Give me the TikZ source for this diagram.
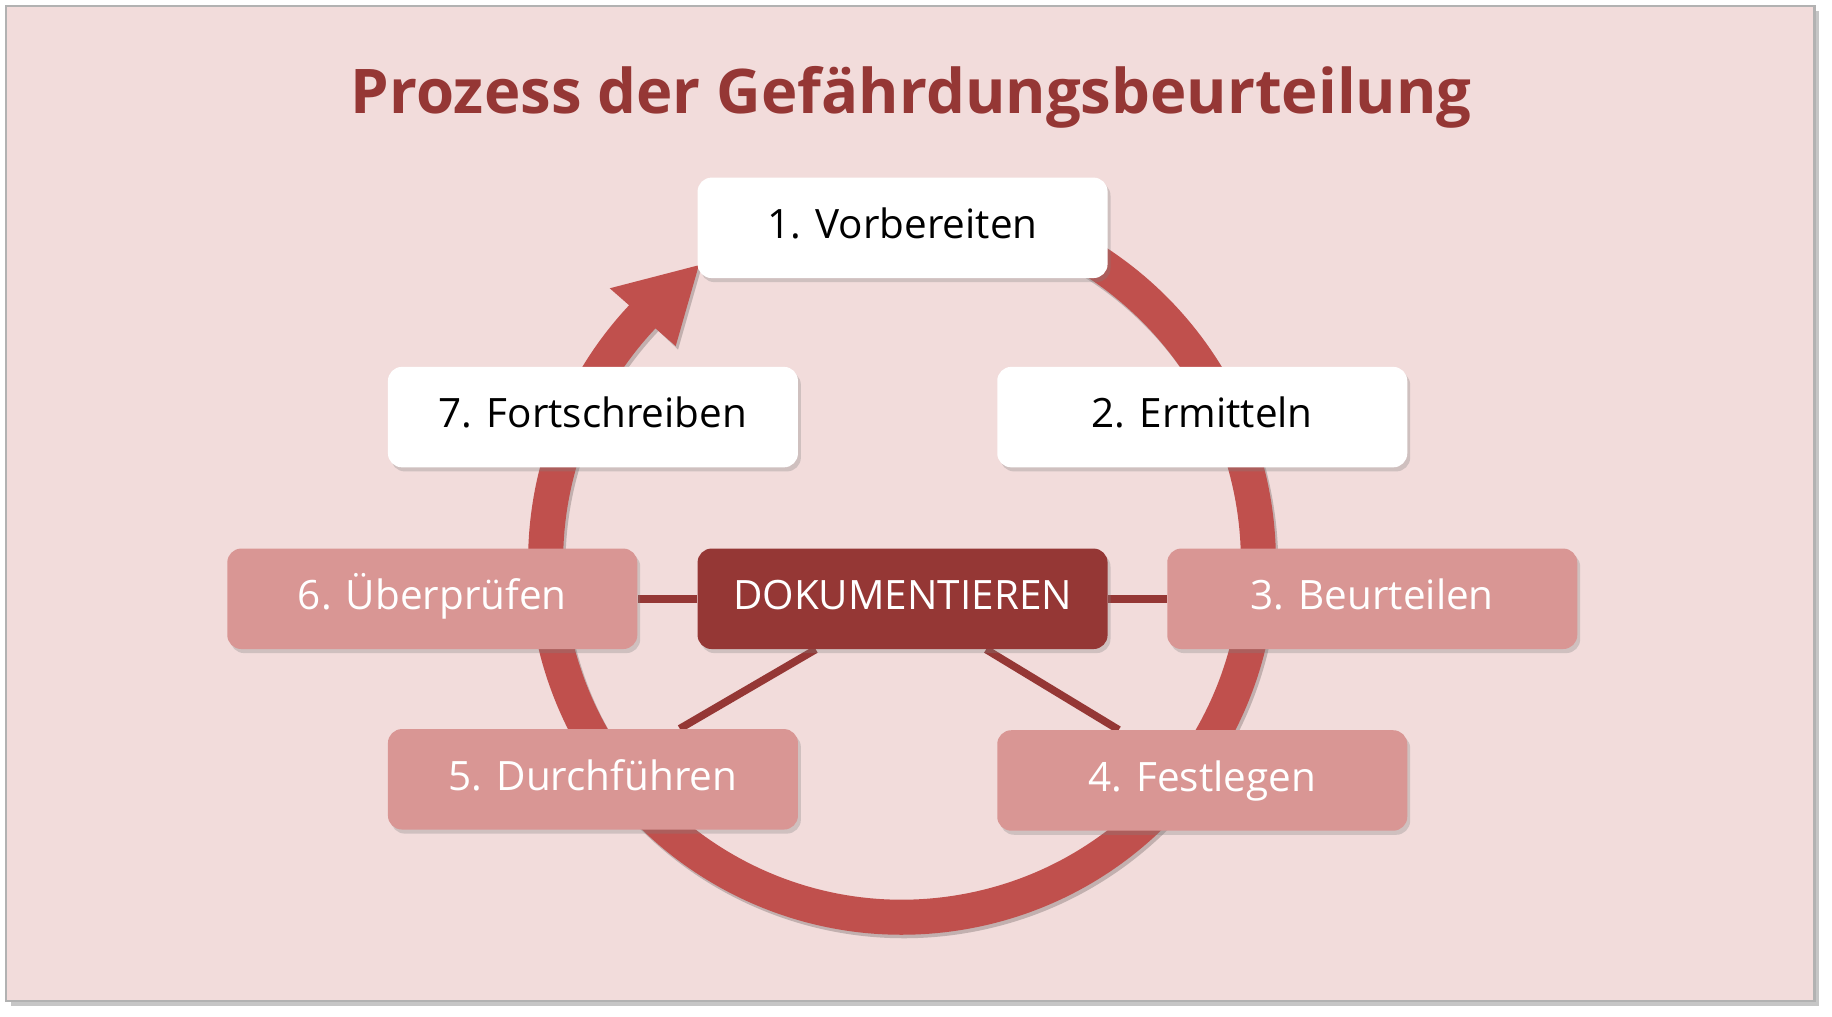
\documentclass[tikz,border=0pt]{standalone}
\usepackage{fontspec}
\setmainfont{Open Sans}
\usetikzlibrary{shadows,backgrounds,calc}
\definecolor{bgrose}{HTML}{F2DCDB}
\definecolor{ringred}{HTML}{C0504D}
\definecolor{darkred}{HTML}{953735}
\definecolor{boxrose}{HTML}{D99694}

\begin{document}
\begin{tikzpicture}[x=0.02cm,y=0.02cm,
    box/.style={rounded corners=0.24cm, minimum width=7.02cm, minimum height=1.72cm,
      inner sep=0pt, text height=1.05em, text depth=0pt, font=\fontsize{19.7}{24}\selectfont,
      drop shadow={shadow xshift=0.05cm, shadow yshift=-0.07cm, opacity=0.3}},
    whitebox/.style={box, fill=white, text=black},
    pinkbox/.style={box, fill=boxrose, text=white},
    dokbox/.style={box, fill=darkred, text=white},
    link/.style={darkred, line width=0.13cm}]
    \useasboundingbox (0,0) rectangle (1568,-870.4);
    \node [font=\fontsize{30}{36}\selectfont\bfseries, text=darkred] (title) at (780,-83) {Prozess der Gefährdungsbeurteilung};
    \node [whitebox] (vorb) at (772.5,-195) {1. Vorbereiten};
    \node [whitebox] (ermi) at (1029,-357) {2. Ermitteln};
    \node [whitebox] (fort) at (507.5,-357) {7. Fortschreiben};
    \node [pinkbox] (pruef) at (370,-512.5) {6. Überprüfen};
    \node [dokbox] (doku) at (772.5,-512.5) {DOKUMENTIEREN};
    \node [pinkbox] (beur) at (1174.5,-512.5) {3. Beurteilen};
    \node [pinkbox] (durch) at (507.5,-667) {5. Durchführen};
    \node [pinkbox] (fest) at (1029,-668) {4. Festlegen};
    \begin{pgfonlayer}{background}
      \fill [gray!45] (9,-9) rectangle (1557,-861);
      \filldraw [fill=bgrose, draw=gray!60, line width=0.04cm] (5,-5) rectangle (1553,-857);
      % ring with arrow
      \coordinate (c) at (772,-480);
      \coordinate (cs) at (774,-483);
      \draw [bgrose!80!black, line width=0.6cm] (cs) ++(100:305) arc [start angle=100, end angle=-224, radius=305];
      \fill [bgrose!80!black] ($(cs)+(136.5:343)$) -- ($(cs)+(124.5:307)$) -- ($(cs)+(136.5:267)$) -- cycle;
      \draw [ringred, line width=0.6cm] (c) ++(100:305) arc [start angle=100, end angle=-224, radius=305];
      \fill [ringred] ($(c)+(137:342)$) -- ($(c)+(124.5:307)$) -- ($(c)+(136.5:267)$) -- cycle;
      \draw [link] (doku) -- (pruef);
      \draw [link] (doku) -- (beur);
      \draw [link] (doku) -- (durch);
      \draw [link] (doku) -- (fest);
    \end{pgfonlayer}
\end{tikzpicture}
\end{document}
